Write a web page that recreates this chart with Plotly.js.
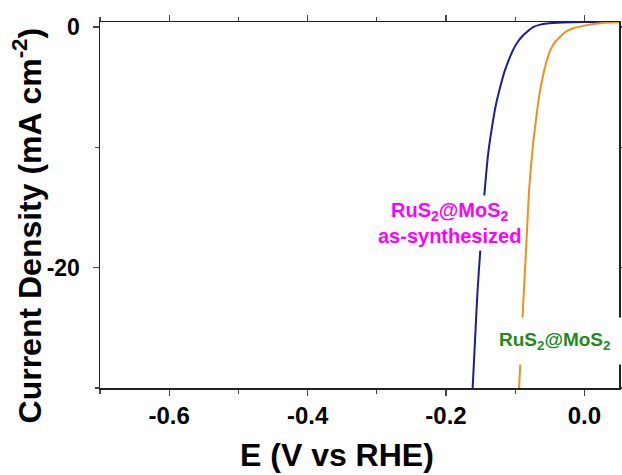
<!DOCTYPE html>
<html>
<head>
<meta charset="utf-8">
<script src="https://cdn.plot.ly/plotly-3.0.1.min.js"></script>
<style>html,body{margin:0;padding:0;background:#fff;}#chart{width:622px;height:475px;}</style>
</head>
<body>
<div id="chart"></div>
<script>
// Potential (V vs RHE) and current density (mA cm^-2)
const asSynthE = [0.05, 0.0, -0.03, -0.054, -0.065, -0.074, -0.081, -0.088, -0.096, -0.103, -0.109, -0.1155, -0.1215, -0.128, -0.1335, -0.139, -0.1435, -0.147, -0.150, -0.1545, -0.158, -0.1615];
const asSynthJ = [0.42, 0.41, 0.38, 0.30, 0.18, 0.0, -0.30, -0.66, -1.2, -1.9, -2.7, -3.7, -4.95, -6.5, -8.3, -10.5, -13.2, -15.7, -18.2, -22.0, -26.0, -30.0];
const treatedE = [0.05, 0.03, 0.013, 0.0, -0.016, -0.026, -0.035, -0.043, -0.049, -0.054, -0.058, -0.0615, -0.065, -0.0695, -0.074, -0.0797, -0.0836, -0.0866, -0.0898, -0.0933, -0.0944];
const treatedJ = [0.40, 0.36, 0.25, 0.12, -0.10, -0.35, -0.80, -1.3, -1.9, -2.7, -3.6, -4.5, -5.6, -7.5, -9.65, -13.4, -17.7, -21.0, -24.6, -28.7, -30.0];
const xTickVals = [-0.6, -0.4, -0.2, 0.0];
const xTickText = ["-0.6", "-0.4", "-0.2", "0.0"];
const yTickVals = [0, -20];
const yTickText = ["0", "-20"];
const labelAsSynth = "RuS<sub>2</sub>@MoS<sub>2</sub><br>as-synthesized";
const labelTreated = "RuS<sub>2</sub>@MoS<sub>2</sub>";
const xTitle = "E (V vs RHE)";
const yTitle = "Current Density (mA cm<sup>-2</sup>)";

const FONT = "Liberation Sans, Arial, sans-serif";

const traces = [
  {x: asSynthE, y: asSynthJ, mode: "lines", line: {color: "#1c1c98", width: 2, shape: "spline", smoothing: 0.8}, hoverinfo: "skip"},
  {x: treatedE, y: treatedJ, mode: "lines", line: {color: "#f0901c", width: 2, shape: "spline", smoothing: 0.8}, hoverinfo: "skip"}
];

const axisCommon = {
  showgrid: false, zeroline: false, showline: true, linecolor: "#222", linewidth: 1.5,
  mirror: "ticks", ticks: "outside", ticklen: 6, tickwidth: 1.2, tickcolor: "#444"
};

const layout = {
  width: 622, height: 475,
  margin: {l: 100, r: 3, t: 22, b: 87},
  paper_bgcolor: "#fff", plot_bgcolor: "#fff",
  showlegend: false,
  font: {family: FONT, color: "#000"},
  xaxis: Object.assign({}, axisCommon, {
    range: [-0.7, 0.05], tickmode: "array", tickvals: xTickVals, ticktext: xTickText,
    tickfont: {family: FONT, size: 24, weight: "bold", color: "#000"},
    minor: {dtick: 0.1, tick0: 0, ticks: "outside", ticklen: 4, tickcolor: "#444", tickwidth: 1.2}
  }),
  yaxis: Object.assign({}, axisCommon, {
    range: [-30, 0.42], tickmode: "array", tickvals: yTickVals, ticktext: yTickText,
    tickfont: {family: FONT, size: 23, weight: "bold", color: "#000"}, ticklabelstandoff: 8,
    minor: {dtick: 10, tick0: 0, ticks: "outside", ticklen: 4, tickcolor: "#444", tickwidth: 1.2}
  }),
  annotations: [
    {x: -0.195, y: -16.3, xref: "x", yref: "y", text: labelAsSynth, showarrow: false,
     font: {family: FONT, size: 20, weight: "bold", color: "#ff00ff"}, bgcolor: "#fff", borderpad: 3, align: "center"},
    {x: -0.043, y: -26.1, xref: "x", yref: "y", text: labelTreated, showarrow: false,
     font: {family: FONT, size: 19, weight: "bold", color: "#1f8a1f"}, bgcolor: "#fff", borderpad: 11, align: "center"},
    {x: 0.457, y: -0.183, xref: "paper", yref: "paper", text: xTitle, showarrow: false, xanchor: "center", yanchor: "middle",
     font: {family: FONT, size: 32, weight: "bold", color: "#000"}},
    {x: -0.14, y: 0.445, xref: "paper", yref: "paper", text: yTitle, showarrow: false, textangle: -90, xanchor: "center", yanchor: "middle",
     font: {family: FONT, size: 32, weight: "bold", color: "#000"}}
  ]
};

Plotly.newPlot("chart", traces, layout, {displayModeBar: false, staticPlot: true});
</script>
</body>
</html>
